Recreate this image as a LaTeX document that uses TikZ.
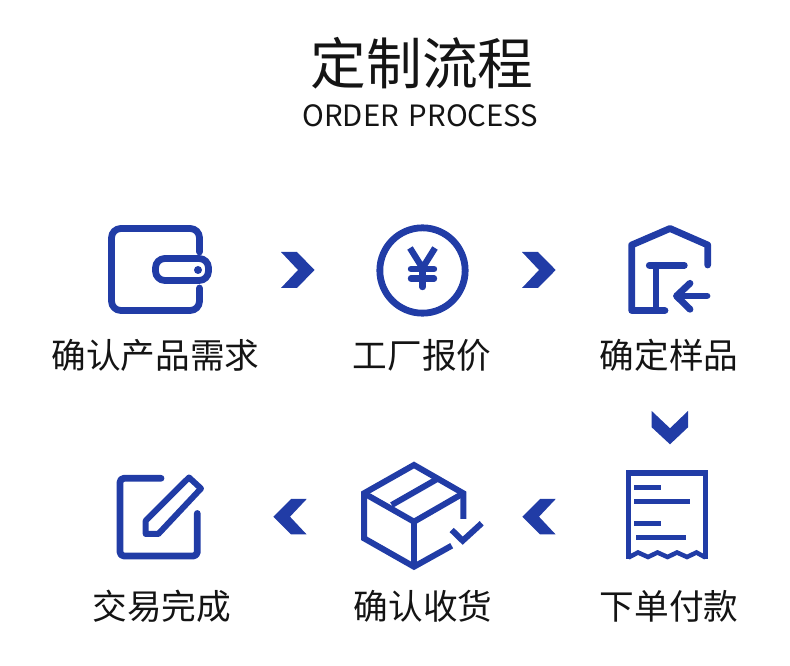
\documentclass[tikz,border=0pt]{standalone}
\usepackage{fontspec}
\setmainfont{Noto Sans CJK SC}
\definecolor{iconblue}{HTML}{213CA6}
\definecolor{textblack}{HTML}{141414}
\begin{document}
\begin{tikzpicture}
[
	x=0.75pt, y=-0.75pt,
	title/.style={text=textblack, font=\fontsize{41.8}{42}\selectfont, inner sep=0pt},
	subtitle/.style={text=textblack, font=\fontsize{22}{22}\selectfont, inner sep=0pt},
	caption/.style={text=textblack, font=\fontsize{26}{26}\selectfont, inner sep=0pt},
	icon/.style={draw=iconblue, line width=5.1pt, line cap=round, line join=round},
	thinicon/.style={draw=iconblue, line width=4.5pt, line join=miter},
	chevron/.style={fill=iconblue}
  ]
	\useasboundingbox (0,0) rectangle (790,666);

	\node[title] (Title) at (422,63) {定制流程};
	\node[subtitle] (Subtitle) at (420.5,116) {ORDER\hspace{2.5pt} PROCESS};

	\node[caption] (Need) at (155.5,355) {确认产品需求};
	\node[caption] (Quote) at (422,355) {工厂报价};
	\node[caption] (Sample) at (669,355) {确定样品};
	\node[caption] (Pay) at (669,606) {下单付款};
	\node[caption] (Receive) at (423,606) {确认收货};
	\node[caption] (Done) at (162,606) {交易完成};

	% wallet
	\draw[icon, rounded corners=7pt] (199.5,252) -- (199.5,228.5) -- (111.5,228.5) -- (111.5,310.5) -- (199.5,310.5) -- (199.5,288);
	\draw[icon, rounded corners=7pt] (155.5,258.5) rectangle (208.5,280.5);
	\fill[iconblue] (198,270) circle (3pt);

	% yen
	\draw[icon] (422.5,270.5) circle (32pt);
	\draw[icon, line cap=butt, line width=4.8pt] (410,248) -- (422.5,268) -- (435,248);
	\draw[icon, line width=4.8pt] (422.5,268) -- (422.5,287);
	\draw[icon, line width=4.8pt] (411,269) -- (434,269);
	\draw[icon, line width=4.8pt] (411,278.5) -- (434,278.5);

	% house
	\draw[icon] (665,310.5) -- (631.7,310.5) -- (631.7,245) -- (670,228.5) -- (707.7,245) -- (707.7,265);
	\draw[icon] (649.3,265.3) -- (684.3,265.3);
	\draw[icon] (656,265.3) -- (656,310.5);
	\draw[icon] (677,296) -- (707,296);
	\draw[icon] (690,283.3) -- (676.5,296) -- (690,309.3);

	% receipt
	\draw[thinicon, line width=4.2pt] (628.5,559) -- (628.5,473.3) -- (705.5,473.3) -- (705.5,559);
	\draw[thinicon, line width=3.4pt] (628.5,557.5) -- (638,552.5) -- (648,557) -- (657.5,552.5) -- (667.5,557) -- (677,552.5) -- (687,557) -- (696.5,552.5) -- (705.5,557.5);
	\draw[thinicon, line width=4pt] (634,487.3) -- (661,487.3);
	\draw[thinicon, line width=4pt] (634,501.7) -- (690,501.7);
	\draw[thinicon, line width=4pt] (634,523.3) -- (661,523.3);
	\draw[thinicon, line width=3.6pt] (636,537.7) -- (686,537.7);

	% box
	\draw[thinicon] (463.3,519) -- (463.3,493.3) -- (414,465) -- (364,493.3) -- (364,538.3) -- (414,566.7) -- (451.7,545.7);
	\draw[thinicon] (364,493.3) -- (414,521.7) -- (463.3,493.3);
	\draw[thinicon] (414,521.7) -- (414,566.7);
	\draw[thinicon] (391.7,505) -- (436.7,479.3);
	\draw[thinicon] (451.7,530) -- (462.7,540.7) -- (481.7,523.3);

	% edit
	\draw[icon, rounded corners=3pt] (161,478.3) -- (120,478.3) -- (120,556) -- (197.3,556) -- (197.3,513.5);
	\draw[icon, line cap=butt, line width=4.5pt] (145.7,534) -- (145.7,520.7) -- (189,477.5) -- (201,488.5) -- (158.3,534) -- cycle;

	% chevrons
	\fill[chevron] (281,252) -- (297,252) -- (314.5,270) -- (297,288) -- (281,288) -- (298,270) -- cycle;
	\fill[chevron] (522,252) -- (538,252) -- (555.7,270) -- (538,288) -- (522,288) -- (539,270) -- cycle;
	\fill[chevron] (651.7,411) -- (670,428.3) -- (688,411) -- (688,427.3) -- (670,444.3) -- (651.7,427.3) -- cycle;
	\fill[chevron] (555.7,499) -- (540,499) -- (522.3,516.7) -- (540,534.5) -- (555.7,534.5) -- (539,516.7) -- cycle;
	\fill[chevron] (306.7,499) -- (291,499) -- (273.3,516.7) -- (291,534.5) -- (306.7,534.5) -- (290,516.7) -- cycle;
\end{tikzpicture}
\end{document}
